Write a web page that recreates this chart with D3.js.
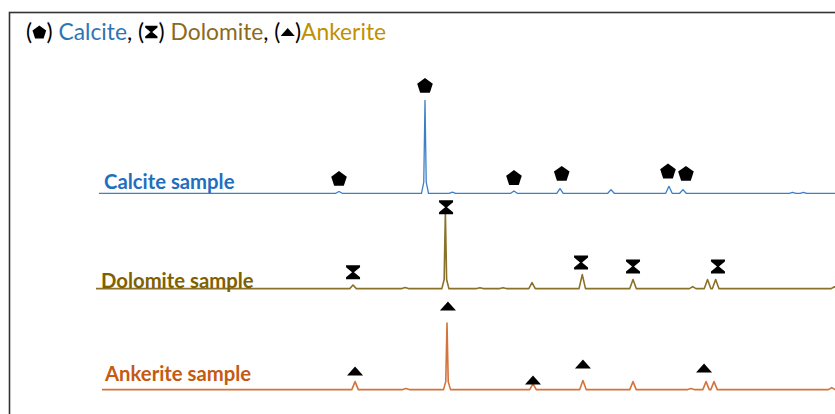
<!DOCTYPE html>
<html><head><meta charset="utf-8">
<script src="https://cdn.jsdelivr.net/npm/d3@7/dist/d3.min.js"></script>
<style>
body{margin:0;background:#fff}
svg{display:block}
</style></head><body>
<svg width="835" height="414"></svg>
<script>
// XRD patterns: [2theta (deg), relative intensity]
const calcitePeaks = [[23.0,2],[29.37,100],[31.4,1.2],[35.96,2.5],[39.37,5],[43.15,4],[47.44,7.5],[48.48,4],[56.6,1],[57.4,1]];
const dolomitePeaks = [[24.04,3.8],[27.9,1.1],[30.88,82],[33.44,1],[35.15,1],[37.3,6.5],[41.02,15],[44.78,9.7],[49.2,2.2],[50.3,9.7],[50.9,9.7],[59.7,2]];
const ankeritePeaks = [[24.19,8.6],[27.96,1.1],[31.0,71.5],[37.37,6.5],[41.07,9.7],[44.78,8.6],[49.07,1.1],[50.19,8.6],[50.78,8.6],[59.5,2.2]];

// identified reflections: [2theta, height above baseline]
const calciteMarks = [[23.0,16],[29.37,116],[35.96,17],[39.5,21.5],[47.37,24],[48.7,21.5]];
const dolomiteMarks = [[24.04,17.7],[30.93,87.6],[40.93,28],[44.78,23.7],[51.07,23.7]];
const ankeriteMarks = [[24.19,19.9],[31.07,89.8],[37.37,10.2],[41.07,27.4],[50.04,23.1]];

const sampleNames = ["Calcite sample","Dolomite sample","Ankerite sample"];
const scanStart = [5.22, 5.0, 5.44];
const scanEnd = 60;

const svg = d3.select('svg');

const x = d3.scaleLinear().domain([5,60]).range([96,838.5]);
const y = d3.scaleLinear().domain([0,100]).range([0,-93]);

const samples = [
  {name: sampleNames[0], peaks: calcitePeaks, marks: calciteMarks, start: scanStart[0], base: 193.3,
   line: '#3b7fc8', label: '#1f6fbf', shape: 'pentagon', lx: 104, ly: 189},
  {name: sampleNames[1], peaks: dolomitePeaks, marks: dolomiteMarks, start: scanStart[1], base: 288.6,
   line: '#8a7128', label: '#7f6000', shape: 'hourglass', lx: 101, ly: 287.5},
  {name: sampleNames[2], peaks: ankeritePeaks, marks: ankeriteMarks, start: scanStart[2], base: 389.6,
   line: '#d4733a', label: '#c55a11', shape: 'triangle', lx: 105, ly: 381}
];

function shapePath(kind, s) {
  s = s || 1;
  const p = [];
  if (kind === 'pentagon') {
    const r = 8.2*s;
    for (let i = 0; i < 5; i++) {
      const a = -Math.PI/2 + i*2*Math.PI/5;
      p.push([r*Math.cos(a), r*Math.sin(a) + r*0.1]);
    }
  } else if (kind === 'hourglass') {
    const w = 7*s, h = 7*s, b = 2*s;
    p.push([-w,-h],[w,-h],[w,-h+b],[1*s,0],[w,h-b],[w,h],[-w,h],[-w,h-b],[-1*s,0],[-w,-h+b]);
  } else {
    p.push([-8*s,4.5*s],[8*s,4.5*s],[0,-4.5*s]);
  }
  return 'M' + p.map(d => d[0].toFixed(2) + ',' + d[1].toFixed(2)).join('L') + 'Z';
}

// frame
svg.append('rect')
  .attr('x', 9.5).attr('y', 12.5)
  .attr('width', 900).attr('height', 500)
  .attr('fill', 'none').attr('stroke', '#333').attr('stroke-width', 1.6);

const line = d3.line().x(d => x(d[0])).y(d => y(d[1]));

samples.forEach(s => {
  const g = svg.append('g').attr('transform', `translate(0,${s.base})`);
  const pts = [[s.start, 0]];
  s.peaks.forEach(p => {
    if (p[1] > 50) {
      const w = 0.26;
      pts.push([p[0]-w, 0], [p[0]-w*0.35, p[1]*0.12], [p[0], p[1]], [p[0]+w*0.35, p[1]*0.12], [p[0]+w, 0]);
    } else {
      const w = 0.24;
      pts.push([p[0]-w, 0], [p[0], p[1]], [p[0]+w, 0]);
    }
  });
  pts.push([scanEnd, 0]);
  pts.sort((a,b) => a[0]-b[0]);

  g.append('path')
    .datum(pts)
    .attr('d', line)
    .attr('fill', 'none')
    .attr('stroke', s.line)
    .attr('stroke-width', s.shape === 'pentagon' ? 1.3 : 1.6)
    .attr('stroke-linejoin', 'round');

  g.selectAll('.mark')
    .data(s.marks)
    .enter()
    .append('path')
    .attr('class', 'mark')
    .attr('transform', d => `translate(${x(d[0])},${y(d[1])})`)
    .attr('d', shapePath(s.shape))
    .attr('fill', '#000');

  svg.append('text')
    .attr('x', s.lx).attr('y', s.ly)
    .attr('font-family', 'Lato, sans-serif')
    .attr('font-weight', 'bold')
    .attr('font-size', 20.3)
    .attr('fill', s.label)
    .text(s.name);
});

// title with inline symbols
const titleParts = [
  {t: '('}, {sym: 'pentagon'}, {t: ') '}, {t: 'Calcite', c: '#2e75b6'},
  {t: ', ('}, {sym: 'hourglass'}, {t: ') '}, {t: 'Dolomite', c: '#8c6a1c'},
  {t: ', ('}, {sym: 'triangle'}, {t: ')'}, {t: 'Ankerite', c: '#bf9000'}
];
let tx = 26;
const ty = 39.5;
titleParts.forEach(p => {
  if (p.sym) {
    const w = 14.5;
    svg.append('path')
      .attr('transform', `translate(${tx + w/2},${ty - 7.5})`)
      .attr('d', shapePath(p.sym, 0.88))
      .attr('fill', '#000');
    tx += w;
  } else {
    const t = svg.append('text')
      .attr('x', tx).attr('y', ty)
      .attr('font-family', 'Lato, sans-serif')
      .attr('font-size', 22.8)
      .attr('fill', p.c || '#000')
      .attr('xml:space', 'preserve')
      .style('white-space', 'pre')
      .text(p.t);
    tx += t.node().getComputedTextLength();
  }
});
</script>
</body></html>
